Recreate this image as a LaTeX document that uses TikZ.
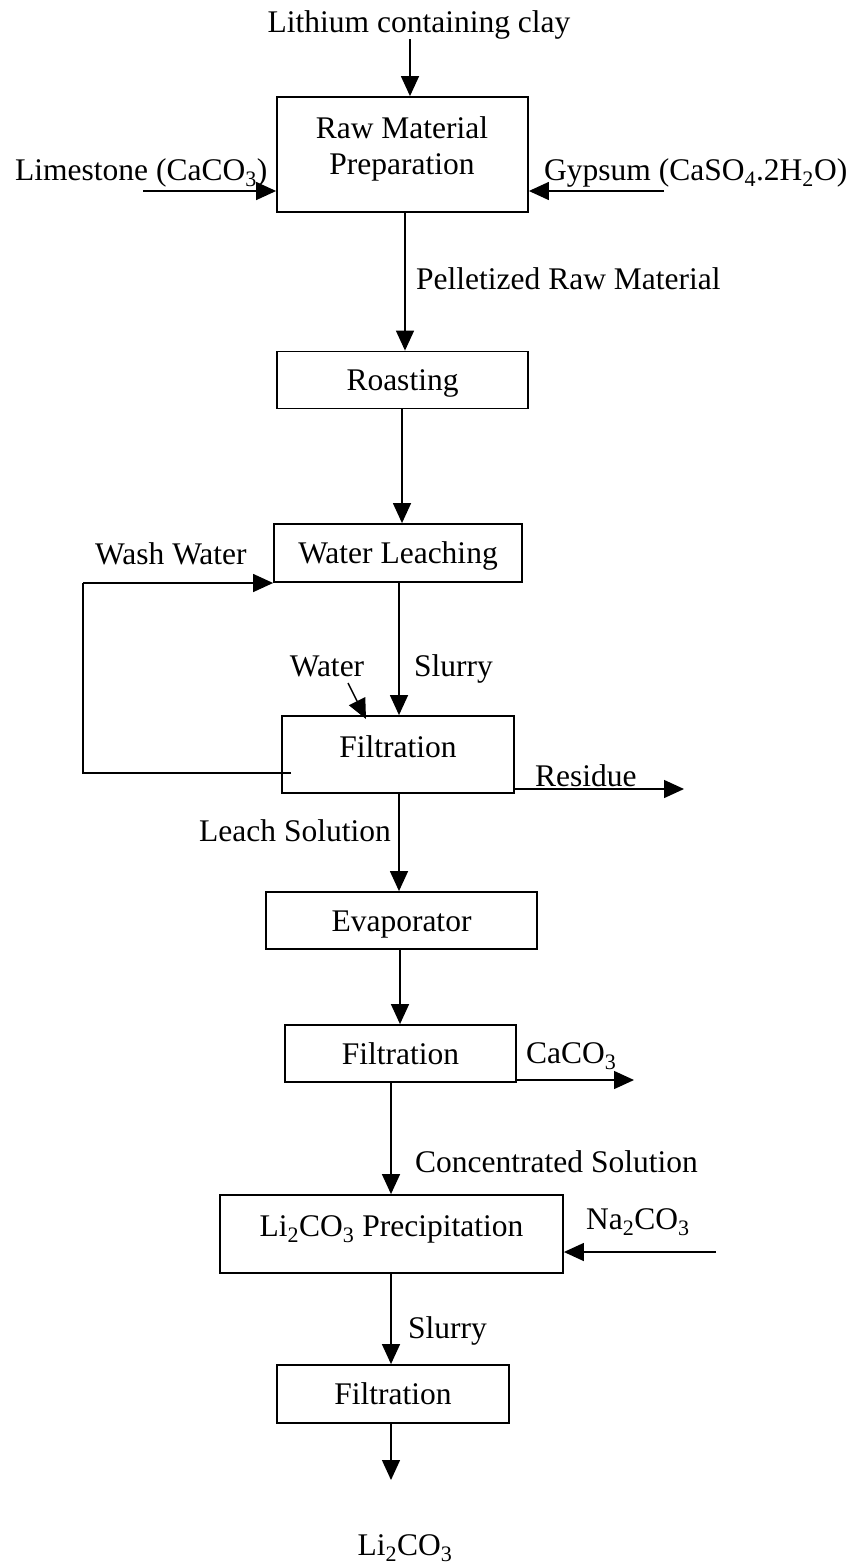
\documentclass[tikz,border=0pt]{standalone}
\usepackage{fontspec}
\setmainfont{Liberation Serif}
\usetikzlibrary{arrows.meta}
\newcommand{\sbs}[1]{\textsubscript{#1}}
\begin{document}
\begin{tikzpicture}[x=1pt,y=-1pt,
  every node/.style={font=\fontsize{31.5}{38}\selectfont, inner sep=0pt,
    text height=21pt, text depth=0pt},
  stepbox/.style={draw, line width=1.8pt},
  arr/.style={line width=1.4pt, -{Triangle[length=20pt,width=18pt]}},
  plain/.style={line width=1.4pt}]
\useasboundingbox (0,0) rectangle (851,1566);

% process boxes
\node[stepbox, minimum width=251pt, minimum height=115pt] (prep) at (402.5,154.5) {};
\node (prepA) at (402,128) {Raw Material};
\node (prepB) at (402,164) {Preparation};
\node[stepbox, minimum width=251pt, minimum height=57pt] (roast) at (402.5,380) {Roasting};
\node[stepbox, minimum width=248pt, minimum height=58pt] (leach) at (398,553) {Water Leaching};
\node[stepbox, minimum width=232pt, minimum height=77pt] (filt1) at (398,754.5) {};
\node (filt1t) at (398,747) {Filtration};
\node[stepbox, minimum width=271pt, minimum height=57pt] (evap) at (401.5,920.5) {Evaporator};
\node[stepbox, minimum width=231pt, minimum height=57pt] (filt2) at (400.5,1053.5) {Filtration};
\node[stepbox, minimum width=343pt, minimum height=78pt] (prec) at (391.5,1234) {};
\node (prect) at (391.5,1226) {Li\sbs{2}CO\sbs{3} Precipitation};
\node[stepbox, minimum width=232pt, minimum height=58pt] (filt3) at (393,1394) {Filtration};

% stream labels
\node (clay) at (419,22) {Lithium containing clay};
\node[anchor=west] (lime) at (15,170) {Limestone (CaCO\sbs{3})};
\node[anchor=west] (gyps) at (544,170) {Gypsum (CaSO\sbs{4}.2H\sbs{2}O)};
\node[anchor=west] (pell) at (416,279) {Pelletized Raw Material};
\node[anchor=west] (wash) at (95,554) {Wash Water};
\node (water) at (327,666) {Water};
\node[anchor=west] (slur1) at (414,666) {Slurry};
\node[anchor=west] (resid) at (535,776) {Residue};
\node[anchor=east] (lsol) at (391,831) {Leach Solution};
\node[anchor=west] (caco) at (526,1053) {CaCO\sbs{3}};
\node[anchor=west] (conc) at (415,1162) {Concentrated Solution};
\node[anchor=west] (naco) at (586,1219) {Na\sbs{2}CO\sbs{3}};
\node[anchor=west] (slur2) at (408,1328) {Slurry};
\node (prod) at (405,1545) {Li\sbs{2}CO\sbs{3}};

% vertical guides of the main line
\coordinate (g0) at (410,0);
\coordinate (g1) at (405,0);
\coordinate (g2) at (402,0);
\coordinate (g3) at (399,0);
\coordinate (g4) at (400,0);
\coordinate (g5) at (391,0);

% free ends of streams
\coordinate (clayS) at (410,39);
\coordinate (limeS) at (143,191);
\coordinate (gypsS) at (664,191);
\coordinate (waterS) at (348,683);
\coordinate (waterE) at (366,719);
\coordinate (residE) at (684,789);
\coordinate (cacoE) at (634,1080);
\coordinate (nacoS) at (716,1252);
\coordinate (prodE) at (391,1480);
\coordinate (washA) at (291,773);
\coordinate (washB) at (83,773);
\coordinate (washC) at (83,583);

% main line
\draw[arr] (clayS) -- (g0 |- prep.north);
\draw[arr] (limeS) -- (limeS -| prep.west);
\draw[arr] (gypsS) -- (gypsS -| prep.east);
\draw[arr] (g1 |- prep.south) -- (g1 |- roast.north);
\draw[arr] (g2 |- roast.south) -- (g2 |- leach.north);
\draw[arr] (g3 |- leach.south) -- (g3 |- filt1.north);
\draw[arr] (waterS) -- (waterE);
\draw[arr] (g3 |- filt1.south) -- (g3 |- evap.north);
\draw[arr] (g4 |- evap.south) -- (g4 |- filt2.north);
\draw[arr] (g5 |- filt2.south) -- (g5 |- prec.north);
\draw[arr] (g5 |- prec.south) -- (g5 |- filt3.north);
\draw[arr] (g5 |- filt3.south) -- (prodE);

% side streams
\draw[arr] (residE -| filt1.east) -- (residE);
\draw[arr] (cacoE -| filt2.east) -- (cacoE);
\draw[arr] (nacoS) -- (nacoS -| prec.east);

% wash water recycle
\draw[plain] (washA) -- (washB) -- (washC);
\draw[arr] (washC) -- (washC -| leach.west);
\end{tikzpicture}
\end{document}
